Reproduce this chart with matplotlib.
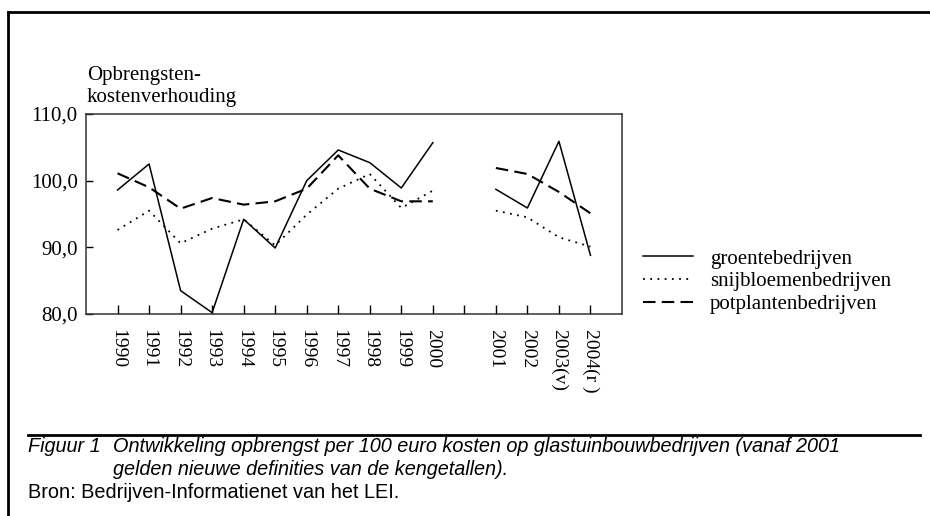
import numpy as np
import matplotlib
matplotlib.use("Agg")
import matplotlib.pyplot as plt
from matplotlib.lines import Line2D

plt.rcParams['font.family'] = ['Liberation Serif', 'DejaVu Serif']

# jaren, met een lege plek tussen 2000 en 2001 (nieuwe definities)
jaren = ['1990', '1991', '1992', '1993', '1994', '1995', '1996', '1997', '1998',
         '1999', '2000', '', '2001', '2002', '2003(v)', '2004(r )']

groente = [98.6, 102.5, 83.5, 80.2, 94.2, 89.9, 100.0, 104.6, 102.7, 98.9, 105.7,
           np.nan, 98.7, 95.9, 105.9, 88.8]
snijbloemen = [92.6, 95.5, 90.6, 92.8, 94.2, 90.3, 94.9, 98.8, 101.0, 95.9, 98.5,
               np.nan, 95.5, 94.5, 91.5, 90.1]
potplanten = [101.1, 99.0, 95.8, 97.4, 96.4, 96.9, 98.8, 103.8, 98.8, 96.9, 96.9,
              np.nan, 101.9, 101.0, 98.3, 95.1]

y_ticks = [80, 90, 100, 110]

fig = plt.figure(figsize=(9.3, 5.16), dpi=100)
ax = fig.add_axes([0.0925, 0.3915, 0.5763, 0.3876])

x = np.arange(len(jaren))
ax.plot(x, groente, color='black', lw=1.1, ls='-')
ax.plot(x, snijbloemen, color='black', lw=1.3, ls=(0, (1, 3)))
ax.plot(x, potplanten, color='black', lw=1.5, ls=(0, (6, 3)))

ax.set_xlim(-1, len(jaren))
ax.set_ylim(80, 110)
ax.set_xticks(x)
ax.set_xticklabels(jaren, rotation=-90, fontsize=14, va='top', ha='center')
ax.set_yticks(y_ticks)
ax.set_yticklabels([('%.1f' % v).replace('.', ',') for v in y_ticks], fontsize=15)
ax.tick_params(axis='x', direction='in', length=6.5, width=1, pad=11)
ax.tick_params(axis='y', direction='in', length=5, width=1, pad=6)
for s in ax.spines.values():
    s.set_linewidth(1.1)
    s.set_color('#333333')

fig.text(87/930, 1 - 80/516, 'Opbrengsten-', fontsize=15, va='baseline')
fig.text(87/930, 1 - 102/516, 'kostenverhouding', fontsize=15, va='baseline')

handles = [Line2D([], [], color='black', lw=1.1, ls='-'),
           Line2D([], [], color='black', lw=1.3, ls=(0, (1, 3))),
           Line2D([], [], color='black', lw=1.5, ls=(0, (6, 3)))]
fig.legend(handles, ['groentebedrijven', 'snijbloemenbedrijven', 'potplantenbedrijven'],
           loc='upper left', bbox_to_anchor=(643/930, 1 - 249/516), frameon=False,
           fontsize=15, handlelength=2.4, handletextpad=0.8, labelspacing=0.15,
           borderaxespad=0, borderpad=0)

# kader van de figuur
fig.add_artist(Line2D([8/930, 1.0], [1 - 12/516, 1 - 12/516], color='black', lw=2,
                      transform=fig.transFigure))
fig.add_artist(Line2D([8/930, 8/930], [0, 1 - 12/516], color='black', lw=2,
                      transform=fig.transFigure))
fig.add_artist(Line2D([28/930, 920/930], [1 - 435/516, 1 - 435/516], color='black', lw=2,
                      transform=fig.transFigure))

cap = ['Liberation Sans', 'DejaVu Sans']
fig.text(28/930, 1 - 452/516, 'Figuur 1', family=cap, style='italic', fontsize=14.3, va='baseline')
fig.text(113/930, 1 - 452/516, 'Ontwikkeling opbrengst per 100 euro kosten op glastuinbouwbedrijven (vanaf 2001',
         family=cap, style='italic', fontsize=14.3, va='baseline')
fig.text(113/930, 1 - 475/516, 'gelden nieuwe definities van de kengetallen).',
         family=cap, style='italic', fontsize=14.3, va='baseline')
fig.text(28/930, 1 - 498/516, 'Bron: Bedrijven-Informatienet van het LEI.',
         family=cap, fontsize=14.3, va='baseline')

fig.savefig('out.png', dpi=100)
